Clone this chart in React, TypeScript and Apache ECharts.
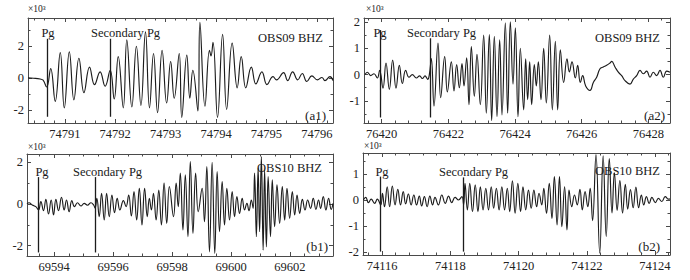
import React, { useEffect, useRef } from "react";
import * as echarts from "echarts";

// ---------- data (amplitudes in units of 10^3 counts, time in s) ----------
const a1Trace: [number, number][] = [
  [74790.27, 0.02], [74790.38, 0.0], [74790.51, -0.05], [74790.57, -0.12], [74790.64, -0.55],
  [74790.72, 0.6], [74790.81, -1.45], [74790.91, 1.6], [74790.99, -1.85], [74791.09, 1.65],
  [74791.18, -1.35], [74791.28, 1.25], [74791.38, -0.9], [74791.49, 0.7], [74791.59, -0.4],
  [74791.7, 0.4], [74791.8, -0.5], [74791.9, 0.5], [74791.98, -1.3], [74792.06, 1.35],
  [74792.16, -1.85], [74792.23, 2.4], [74792.33, -1.8], [74792.42, 2.0], [74792.51, -1.7],
  [74792.6, 2.9], [74792.68, -1.85], [74792.76, 1.55], [74792.84, -2.15], [74792.93, 1.75],
  [74793.02, -1.55], [74793.1, 1.05], [74793.17, -1.25], [74793.27, 1.55], [74793.32, -2.45],
  [74793.42, 1.45], [74793.48, -1.25], [74793.54, 0.5], [74793.64, -2.05], [74793.68, 3.5],
  [74793.78, -1.75], [74793.87, 1.75], [74793.9, 1.4], [74793.94, 2.25], [74794.03, -2.45],
  [74794.13, 2.75], [74794.21, -1.95], [74794.32, 2.2], [74794.42, -0.6], [74794.5, 1.35],
  [74794.59, -0.6], [74794.7, 0.7], [74794.79, -0.35], [74794.91, 0.4], [74795.01, -0.4],
  [74795.13, 0.1], [74795.2, -0.1], [74795.34, 0.35], [74795.42, -0.15], [74795.52, 0.4],
  [74795.62, -0.1], [74795.71, 0.3], [74795.8, -0.2], [74795.9, 0.15], [74796.01, -0.1],
  [74796.1, 0.05], [74796.16, -0.15], [74796.26, 0.1], [74796.32, -0.15],
];

const a2Trace: [number, number][] = [
  [76419.5, 0.0], [76419.57, 0.09], [76419.67, -0.04], [76419.77, 0.03], [76419.87, -0.13],
  [76419.94, 0.16], [76420.04, -0.52], [76420.13, 0.44], [76420.23, -0.56], [76420.33, 0.55],
  [76420.43, -0.52], [76420.53, 0.35], [76420.62, -0.34], [76420.72, 0.16], [76420.82, -0.1],
  [76420.92, 0.0], [76421.04, -0.13], [76421.14, -0.05], [76421.22, -0.15], [76421.3, -0.05],
  [76421.38, -0.18], [76421.43, 0.0], [76421.49, 0.61], [76421.57, -1.2], [76421.69, 1.2],
  [76421.77, -0.88], [76421.89, 0.68], [76421.97, -0.66], [76422.09, 0.48], [76422.17, -0.62],
  [76422.25, 0.38], [76422.33, -0.5], [76422.41, 0.42], [76422.47, -0.43], [76422.55, 0.64],
  [76422.62, -1.14], [76422.69, 1.06], [76422.78, -0.82], [76422.86, 0.77], [76422.96, -1.14],
  [76423.06, 1.5], [76423.14, -1.47], [76423.23, 1.52], [76423.3, -1.75], [76423.38, 1.45],
  [76423.46, -1.6], [76423.54, 1.32], [76423.61, -1.53], [76423.71, 1.97], [76423.78, -1.47],
  [76423.86, 2.0], [76423.94, -0.36], [76424.01, 1.78], [76424.09, -1.6], [76424.16, 1.0],
  [76424.26, -1.34], [76424.32, 0.6], [76424.38, -0.95], [76424.44, 0.48], [76424.5, -1.14],
  [76424.58, 0.38], [76424.64, -0.43], [76424.7, 0.48], [76424.78, -0.95], [76424.86, 1.0],
  [76424.94, -1.08], [76425.04, 1.5], [76425.12, -1.34], [76425.21, 1.26], [76425.28, -1.34],
  [76425.36, 0.94], [76425.46, -0.3], [76425.56, 0.6], [76425.63, 0.1], [76425.71, 0.48],
  [76425.81, -0.13], [76425.88, 0.35], [76425.96, -0.3], [76426.03, -0.04], [76426.12, -0.43],
  [76426.25, -0.6], [76426.35, -0.3], [76426.45, -0.1], [76426.55, 0.22], [76426.65, 0.29],
  [76426.75, 0.35], [76426.85, 0.44], [76426.9, 0.5], [76427.0, 0.29], [76427.1, 0.09],
  [76427.2, -0.04], [76427.3, -0.23], [76427.45, -0.36], [76427.55, -0.17], [76427.65, -0.04],
  [76427.75, 0.16], [76427.85, 0.03], [76427.95, 0.13], [76428.05, -0.1], [76428.15, 0.09],
  [76428.25, -0.04], [76428.35, 0.16], [76428.45, -0.1], [76428.55, 0.13], [76428.65, 0.09],
];

const b1Trace: [number, number][] = [
  [69593.08, 0.0], [69593.15, 0.06], [69593.26, -0.05], [69593.38, -0.13], [69593.47, -0.29],
  [69593.55, 0.11], [69593.64, -0.32], [69593.72, 0.22], [69593.81, -0.48], [69593.9, 0.19],
  [69593.98, -0.53], [69594.06, 0.22], [69594.15, -0.32], [69594.25, 0.32], [69594.34, -0.29],
  [69594.42, 0.19], [69594.51, -0.37], [69594.6, 0.16], [69594.69, -0.13], [69594.79, 0.06],
  [69594.91, -0.1], [69595.02, 0.03], [69595.13, -0.06], [69595.25, 0.06], [69595.34, -0.05],
  [69595.39, -0.2], [69595.45, 0.27], [69595.53, -0.61], [69595.61, 0.51], [69595.7, -0.77],
  [69595.78, 0.51], [69595.87, -0.61], [69595.96, 0.43], [69596.05, -0.42], [69596.14, 0.27],
  [69596.23, -0.29], [69596.35, 0.16], [69596.44, -0.13], [69596.53, 0.43], [69596.62, -0.58],
  [69596.71, 0.59], [69596.8, -0.77], [69596.89, 0.75], [69596.98, -1.01], [69597.07, 0.75],
  [69597.16, -0.61], [69597.23, 0.27], [69597.3, -0.29], [69597.37, 0.51], [69597.46, -0.77],
  [69597.55, 0.67], [69597.64, -1.01], [69597.73, 1.0], [69597.82, -0.93], [69597.91, 0.84],
  [69598.05, -0.61], [69598.14, 1.0], [69598.21, -0.13], [69598.28, 1.48], [69598.37, -1.25],
  [69598.45, 1.4], [69598.54, -1.57], [69598.62, 2.04], [69598.71, -1.41], [69598.8, 1.48],
  [69598.89, -0.37], [69599.02, 0.75], [69599.1, -0.85], [69599.18, 1.8], [69599.27, -2.3],
  [69599.36, 2.0], [69599.45, -2.38], [69599.53, 1.56], [69599.61, -1.33], [69599.7, 1.08],
  [69599.78, -1.01], [69599.86, 0.75], [69599.95, -0.77], [69600.04, 0.59], [69600.12, -0.61],
  [69600.2, 0.35], [69600.29, -0.45], [69600.38, 0.27], [69600.46, -0.29], [69600.54, 0.03],
  [69600.61, -0.32], [69600.69, 0.19], [69600.75, -0.21], [69600.8, 1.48], [69600.86, -1.57],
  [69600.92, 1.72], [69600.97, -1.33], [69601.03, 2.28], [69601.09, -2.22], [69601.14, 1.64],
  [69601.2, -2.06], [69601.26, 1.32], [69601.34, -1.57], [69601.4, 1.16], [69601.48, -1.09],
  [69601.56, 0.92], [69601.65, -0.93], [69601.74, 0.84], [69601.82, -0.77], [69601.9, 0.75],
  [69601.99, -0.69], [69602.08, 0.59], [69602.16, -0.53], [69602.24, 0.43], [69602.33, -0.45],
  [69602.42, 0.22], [69602.51, -0.29], [69602.6, 0.19], [69602.7, -0.21], [69602.79, 0.27],
  [69602.88, -0.26], [69602.97, 0.19], [69603.04, -0.21], [69603.13, 0.35], [69603.22, -0.29],
  [69603.31, 0.27], [69603.4, -0.26], [69603.46, 0.03],
];

const b2Trace: [number, number][] = [
  [74115.45, 0.0], [74115.52, 0.1], [74115.6, -0.1], [74115.68, 0.03], [74115.78, -0.13],
  [74115.86, 0.03], [74115.96, -0.19], [74116.01, 0.26], [74116.07, -0.26], [74116.15, 0.51],
  [74116.22, -0.26], [74116.3, 0.54], [74116.38, -0.19], [74116.46, 0.41], [74116.54, -0.19],
  [74116.62, 0.32], [74116.69, -0.15], [74116.77, 0.23], [74116.85, -0.19], [74116.93, 0.19],
  [74117.01, -0.19], [74117.09, 0.15], [74117.16, -0.23], [74117.24, 0.13], [74117.32, -0.26],
  [74117.4, 0.15], [74117.48, -0.19], [74117.55, 0.1], [74117.65, -0.19], [74117.75, 0.19],
  [74117.85, -0.13], [74117.95, 0.15], [74118.04, -0.1], [74118.14, 0.1], [74118.24, 0.0],
  [74118.34, 0.13], [74118.39, -0.19], [74118.43, 0.64], [74118.5, -0.38], [74118.57, 0.64],
  [74118.65, -0.45], [74118.73, 0.58], [74118.81, -0.45], [74118.88, 0.51], [74118.96, -0.38],
  [74119.04, 0.45], [74119.12, -0.38], [74119.2, 0.51], [74119.27, -0.32], [74119.35, 0.45],
  [74119.43, -0.38], [74119.51, 0.51], [74119.59, -0.38], [74119.67, 0.45], [74119.74, -0.45],
  [74119.82, 0.74], [74119.9, -0.51], [74119.98, 0.64], [74120.06, -0.45], [74120.13, 0.51],
  [74120.21, -0.38], [74120.29, 0.38], [74120.37, -0.32], [74120.45, 0.38], [74120.53, -0.26],
  [74120.6, 0.26], [74120.68, -0.19], [74120.74, 0.45], [74120.82, -0.51], [74120.9, 0.64],
  [74120.98, -0.71], [74121.05, 0.9], [74121.13, -0.96], [74121.2, 0.9], [74121.27, -1.03],
  [74121.35, 0.51], [74121.42, -1.15], [74121.48, 0.38], [74121.56, -0.26], [74121.64, 0.19],
  [74121.72, -0.19], [74121.8, 0.41], [74121.87, -0.38], [74121.95, 0.32], [74122.03, -0.26],
  [74122.1, 0.45], [74122.17, -0.8], [74122.27, 1.75], [74122.38, -2.05], [74122.48, 1.7],
  [74122.57, -1.4], [74122.66, 1.6], [74122.74, -0.5], [74122.81, 1.05], [74122.89, -0.4],
  [74122.97, 0.75], [74123.05, -0.5], [74123.13, 0.6], [74123.2, -0.35], [74123.28, 0.4],
  [74123.36, -0.3], [74123.44, 0.5], [74123.52, -0.3], [74123.6, 0.19], [74123.67, -0.19],
  [74123.75, 0.13], [74123.83, -0.13], [74123.91, 0.1], [74124.01, -0.1], [74124.1, 0.06],
  [74124.2, -0.06], [74124.3, 0.13], [74124.4, 0.03], [74124.44, 0.05],
];

// phase picks: [time, top, bottom]
const a1Picks: [number, number, number][] = [[74790.66, 2.47, -2.41], [74791.91, 2.47, -2.41]];
const a2Picks: [number, number, number][] = [[76419.97, 1.69, -1.63], [76421.45, 1.38, -1.63]];
const b1Picks: [number, number, number][] = [[69593.47, 1.29, -2.33], [69595.39, 1.29, -2.33]];
const b2Picks: [number, number, number][] = [[74115.96, 0.9, -1.99], [74118.38, 0.87, -1.99]];

// axis extents [min, max, tick step]
const xExtents: [number, number, number][] = [
  [74790.27, 74796.32, 1], [76419.47, 76428.65, 2], [69593.08, 69603.46, 2], [74115.44, 74124.44, 2],
];
const yExtents: [number, number, number][] = [
  [-2.8, 3.77, 2], [-1.84, 2.15, 1], [-2.5, 2.4, 2], [-2.12, 1.81, 1],
];

const stationLabels = ["OBS09 BHZ", "OBS09 BHZ", "OBS10 BHZ", "OBS10 BHZ"];
const panelLabels = ["(a1)", "(a2)", "(b1)", "(b2)"];
const pickLabels = ["Pg", "Secondary Pg"];

// ---------- layout ----------
const grids = [
  { left: 28, top: 18, width: 305, height: 105 },
  { left: 364, top: 18, width: 306, height: 105 },
  { left: 27, top: 154, width: 306, height: 102 },
  { left: 363, top: 153, width: 307, height: 102 },
];
const xMinorSplit = [5, 5, 4, 5];
const textPos = [
  { pg: 48, sec: 91, pickY: 33, st: 323, stY: 37.5, pan: 326, panY: 115, exp: [28, 9] },
  { pg: 380, sec: 407, pickY: 33, st: 660, stY: 37.5, pan: 665, panY: 115, exp: [366, 9] },
  { pg: 42, sec: 73, pickY: 172, st: 322, stY: 167.5, pan: 328, panY: 246.5, exp: [28, 146.5] },
  { pg: 382, sec: 439, pickY: 172, st: 660, stY: 171, pan: 660, panY: 246.5, exp: [364, 146] },
];

const FONT = "'Liberation Serif', 'Times New Roman', serif";
const AXIS_COLOR = "#4a4a4a";
const INK = "#1c1c1c";

export default function App() {
  const ref = useRef<HTMLDivElement>(null);

  useEffect(() => {
    if (!ref.current) return;
    const chart = echarts.init(ref.current, undefined, { renderer: "svg" });
    const traces = [a1Trace, a2Trace, b1Trace, b2Trace];
    const picks = [a1Picks, a2Picks, b1Picks, b2Picks];

    const xAxisFor = (i: number, mirror: boolean) => ({
      type: "value",
      gridIndex: i,
      position: mirror ? "top" : "bottom",
      min: xExtents[i][0],
      max: xExtents[i][1],
      minInterval: xExtents[i][2],
      maxInterval: xExtents[i][2],
      axisLine: { show: true, onZero: false, lineStyle: { color: AXIS_COLOR, width: 1 } },
      axisTick: { show: true, inside: true, length: 4, lineStyle: { color: AXIS_COLOR } },
      minorTick: { show: true, splitNumber: xMinorSplit[i], length: 2.5, lineStyle: { color: AXIS_COLOR } },
      splitLine: { show: false },
      axisLabel: {
        show: !mirror,
        showMinLabel: false,
        showMaxLabel: false,
        margin: 4,
        fontSize: 12.5,
        fontFamily: FONT,
        color: "#222",
        formatter: (v: number) => String(Math.round(v)),
      },
    });

    const yAxisFor = (i: number, mirror: boolean) => ({
      type: "value",
      gridIndex: i,
      position: mirror ? "right" : "left",
      min: yExtents[i][0],
      max: yExtents[i][1],
      minInterval: yExtents[i][2],
      maxInterval: yExtents[i][2],
      axisLine: { show: true, onZero: false, lineStyle: { color: AXIS_COLOR, width: 1 } },
      axisTick: { show: true, inside: true, length: 4, lineStyle: { color: AXIS_COLOR } },
      minorTick: { show: true, splitNumber: 2, length: 2.5, lineStyle: { color: AXIS_COLOR } },
      splitLine: { show: false },
      axisLabel: {
        show: !mirror,
        showMinLabel: false,
        showMaxLabel: false,
        margin: 4,
        fontSize: 12.5,
        fontFamily: FONT,
        color: "#222",
        formatter: (v: number) => String(Math.round(v * 1000) / 1000),
      },
    });

    const series = traces.map((tr, i) => ({
      type: "line",
      xAxisIndex: i,
      yAxisIndex: i,
      data: tr,
      symbol: "none",
      showSymbol: false,
      smooth: 0.45,
      clip: true,
      silent: true,
      lineStyle: { color: INK, width: 1.15 },
      markLine: {
        symbol: "none",
        silent: true,
        label: { show: false },
        lineStyle: { color: INK, width: 1.3, type: "solid" },
        data: picks[i].map((p) => [{ coord: [p[0], p[1]] }, { coord: [p[0], p[2]] }]),
      },
    }));

    const txt = (text: string, x: number, y: number, align: string, size = 12.5) => ({
      type: "text",
      x,
      y,
      z: 10,
      style: { text, fontSize: size, fontFamily: FONT, fill: "#1a1a1a", align, verticalAlign: "middle" },
    });

    const graphic: any[] = [];
    textPos.forEach((tp, i) => {
      graphic.push(txt(pickLabels[0], tp.pg, tp.pickY, "center"));
      graphic.push(txt(pickLabels[1], tp.sec, tp.pickY, "left"));
      graphic.push(txt(stationLabels[i], tp.st, tp.stY, "right"));
      graphic.push(txt(panelLabels[i], tp.pan, tp.panY, "right", 13));
      graphic.push(txt("×10³", tp.exp[0], tp.exp[1], "left", 9.5));
    });

    chart.setOption({
      animation: false,
      backgroundColor: "#ffffff",
      textStyle: { fontFamily: FONT },
      grid: grids.map((g) => ({ ...g, containLabel: false })),
      xAxis: [0, 1, 2, 3].map((i) => xAxisFor(i, false)).concat([0, 1, 2, 3].map((i) => xAxisFor(i, true))),
      yAxis: [0, 1, 2, 3].map((i) => yAxisFor(i, false)).concat([0, 1, 2, 3].map((i) => yAxisFor(i, true))),
      series,
      graphic,
    });

    return () => chart.dispose();
  }, []);

  return (
    <div
      ref={ref}
      style={{ position: "absolute", left: 0, top: 0, width: 690, height: 280, background: "#fff" }}
    />
  );
}
